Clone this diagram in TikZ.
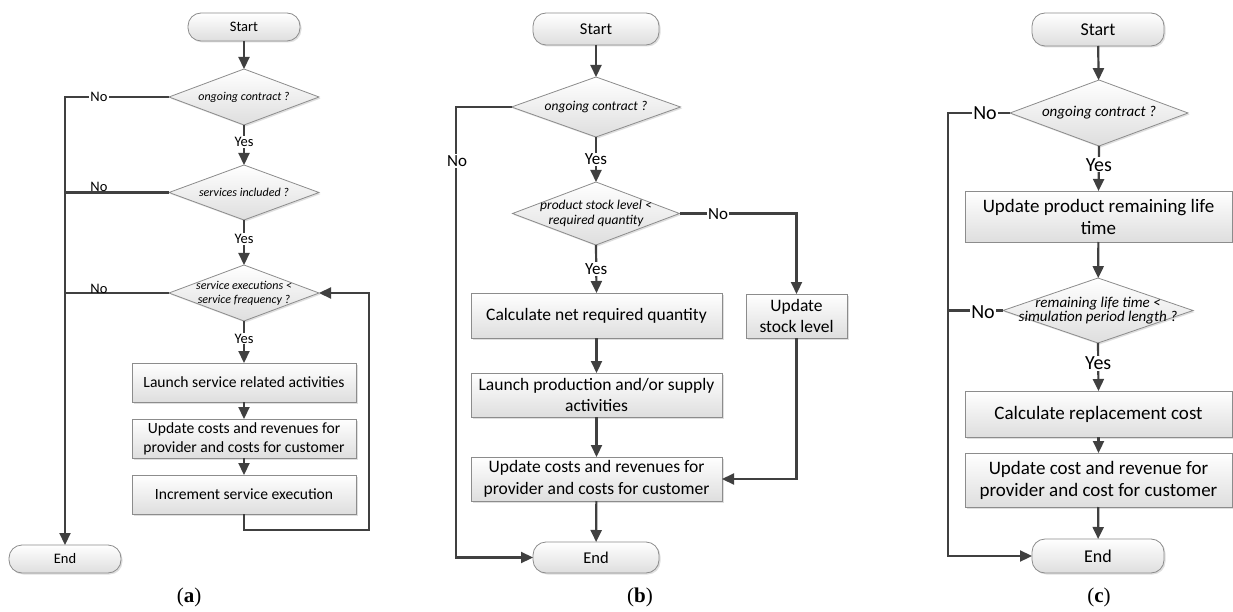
\documentclass[tikz,border=0pt]{standalone}
\usepackage{fontspec}
\setmainfont{Carlito}
\newfontfamily\capfont{Liberation Serif}
\usetikzlibrary{shapes.geometric,arrows.meta,shadows}
\definecolor{lnc}{HTML}{404040}
\definecolor{bdc}{HTML}{8C8C8C}
\definecolor{shc}{HTML}{DEDEDE}
\tikzset{
  base/.style={draw=bdc, line width=0.8pt, top color=white, bottom color=shc,
    drop shadow={shadow xshift=1.5pt, shadow yshift=-1.5pt, opacity=0.25},
    align=center, inner sep=0pt, outer sep=0pt, text=black},
  procbox/.style={base, rectangle},
  term/.style={base, rectangle, rounded corners=13pt},
  dec/.style={base, diamond, aspect=2.7, inner xsep=-50pt, inner ysep=-14pt},
  arr/.style={draw=lnc, line width=2.2pt, -{Triangle[length=12pt,width=11pt]}},
  lnk/.style={draw=lnc, line width=2.2pt},
  lab/.style={fill=white, inner sep=1pt, text=black},
  fa/.style={font=\fontsize{15.6}{19}\selectfont},
  fda/.style={font=\fontsize{12}{14}\selectfont\itshape},
  fla/.style={font=\fontsize{14.5}{16}\selectfont},
  fb/.style={font=\fontsize{17.5}{21.5}\selectfont},
  fdb/.style={font=\fontsize{13.5}{15}\selectfont\itshape},
  flb/.style={font=\fontsize{17}{19}\selectfont},
  fc/.style={font=\fontsize{19}{22}\selectfont},
  fdc/.style={font=\fontsize{15}{14.5}\selectfont\itshape},
  flc/.style={font=\fontsize{20}{22}\selectfont},
  capt/.style={font=\fontsize{21}{22}\selectfont\capfont},
}
\begin{document}
\begin{tikzpicture}[x=1pt, y=-1pt]
\useasboundingbox[fill=white] (0,0) rectangle (1233,612);

% ---------------- (a) ----------------
\node[term, fla, minimum width=112pt, minimum height=28pt] (aS) at (244,27) {Start};
\node[dec, fda, minimum width=150pt, minimum height=56pt] (ad1) at (244,97) {ongoing contract ?};
\node[dec, fda, minimum width=150pt, minimum height=55pt] (ad2) at (244,192.5) {services included ?};
\node[dec, fda, minimum width=150pt, minimum height=56pt] (ad3) at (244,293) {service executions <\\service frequency ?};
\node[procbox, fa, minimum width=224pt, minimum height=39pt] (ab1) at (244,382.5) {Launch service related activities};
\node[procbox, fa, minimum width=224pt, minimum height=39pt] (ab2) at (244,438.5) {Update costs and revenues for\\provider and costs for customer};
\node[procbox, fa, minimum width=224pt, minimum height=39pt] (ab3) at (244,494.5) {Increment service execution};
\node[term, fla, minimum width=112pt, minimum height=28pt] (aE) at (65,559) {End};
\coordinate (aL) at (369,530);

\draw[arr] (aS) -- (ad1);
\draw[arr] (ad1.south) -- node[lab, fla, pos=0.42] {Yes} (ad2.north);
\draw[arr] (ad2.south) -- node[lab, fla, pos=0.42] {Yes} (ad3.north);
\draw[arr] (ad3.south) -- node[lab, fla, pos=0.42] {Yes} (ab1.north);
\draw[arr] (ab1) -- (ab2);
\draw[arr] (ab2) -- (ab3);
\draw[arr] (ab3.south) |- (aL) |- (ad3.east);
\draw[arr] (ad1.west) -| (aE.north);
\draw[lnk] (ad2.west) -- (ad2.west -| aE.north);
\draw[lnk] (ad3.west) -- (ad3.west -| aE.north);
\node[lab, fla] at (99,97) {No};
\node[fla, anchor=base, inner sep=0pt] at (99,192) {No};
\node[fla, anchor=base, inner sep=0pt] at (99,293) {No};
\node[capt] (acap) at (189,597) {(\textbf{a})};

% ---------------- (b) ----------------
\node[term, font=\fontsize{16.5}{18}\selectfont, minimum width=126pt, minimum height=32pt] (bS) at (596,29) {Start};
\node[dec, fdb, minimum width=169pt, minimum height=60pt] (bd1) at (596,107) {ongoing contract ?};
\node[dec, fdb, minimum width=167pt, minimum height=63pt] (bd2) at (596,213.5) {product stock level <\\required quantity};
\node[procbox, fb, minimum width=251pt, minimum height=45pt] (bb1) at (596.5,315.5) {Calculate net required quantity};
\node[procbox, fb, minimum width=251pt, minimum height=44pt] (bb2) at (596.5,395) {Launch production and/or supply\\activities};
\node[procbox, fb, minimum width=251pt, minimum height=44pt] (bb3) at (596.5,479) {Update costs and revenues for\\provider and costs for customer};
\node[procbox, fb, minimum width=101pt, minimum height=44pt] (bU) at (796.5,316) {Update\\stock level};
\node[term, font=\fontsize{16.5}{18}\selectfont, minimum width=126pt, minimum height=31pt] (bE) at (596,557.5) {End};
\coordinate (bN) at (456,330);

\draw[arr] (bS) -- (bd1);
\draw[arr] (bd1.south) -- node[lab, flb, pos=0.5] {Yes} (bd2.north);
\draw[arr] (bd2.south) -- node[lab, flb, pos=0.5] {Yes} (bb1.north);
\draw[arr] (bb1) -- (bb2);
\draw[arr] (bb2) -- (bb3);
\draw[arr] (bb3) -- (bE);
\draw[arr] (bd2.east) -| (bU.north);
\draw[arr] (bU.south) |- (bb3.east);
\draw[arr] (bd1.west) -| (bN) |- (bE.west);
\node[lab, flb] at (457,161) {No};
\node[lab, flb] at (718,214) {No};
\node[capt] (bcap) at (640,597) {(\textbf{b})};

% ---------------- (c) ----------------
\node[term, font=\fontsize{18}{20}\selectfont, minimum width=132pt, minimum height=33pt] (cS) at (1098,29.5) {Start};
\node[dec, fdc, minimum width=178pt, minimum height=66pt] (cd1) at (1099,113) {ongoing contract ?};
\node[procbox, fc, minimum width=267pt, minimum height=51pt] (cb1) at (1098.5,216.5) {Update product remaining life\\time};
\node[dec, fdc, minimum width=190pt, minimum height=65pt] (cd2) at (1098,310.5) {remaining life time <\\simulation period length ?};
\node[procbox, fc, minimum width=267pt, minimum height=46pt] (cb2) at (1098.5,414) {Calculate replacement cost};
\node[procbox, fc, minimum width=267pt, minimum height=54pt] (cb3) at (1098.5,480) {Update cost and revenue for\\provider and cost for customer};
\node[term, font=\fontsize{18}{20}\selectfont, minimum width=132pt, minimum height=34pt] (cE) at (1098,556) {End};
\coordinate (cN) at (948,300);

\draw[arr] (cS) -- (cd1);
\draw[arr] (cd1.south) -- node[lab, flc, pos=0.42] {Yes} (cb1.north);
\draw[arr] (cb1) -- (cd2);
\draw[arr] (cd2.south) -- node[lab, flc, pos=0.42] {Yes} (cb2.north);
\draw[arr] (cb2) -- (cb3);
\draw[arr] (cb3) -- (cE);
\draw[arr] (cd1.west) -| (cN) |- (cE.west);
\draw[lnk] (cd2.west) -- (cd2.west -| cN);
\node[lab, flc] at (985,113) {No};
\node[lab, flc] at (983,312) {No};
\node[capt] (ccap) at (1099,597) {(\textbf{c})};
\end{tikzpicture}
\end{document}
